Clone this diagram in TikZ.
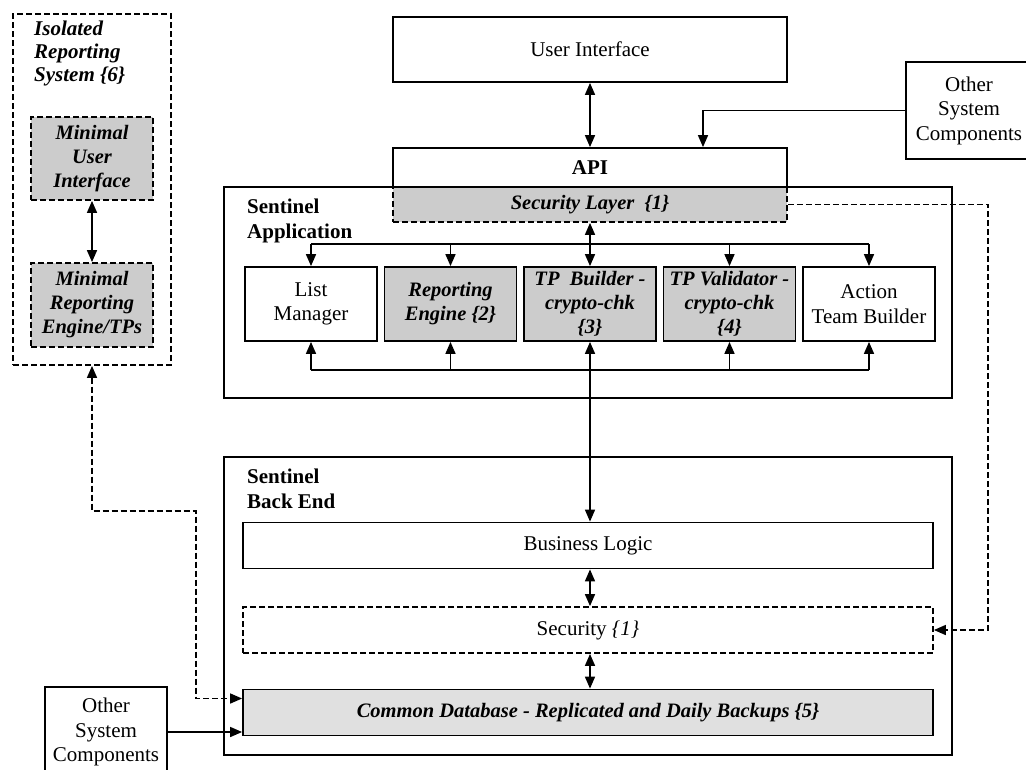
\documentclass[tikz,border=0pt]{standalone}
\usepackage{fontspec}
\setmainfont{Liberation Serif}
\usetikzlibrary{arrows.meta}

\tikzset{
  blk/.style={draw, line width=1.8pt, align=center, inner sep=0pt,
    font=\fontsize{21}{24.5}\selectfont},
  shadeblk/.style={blk, fill=black!20, font=\fontsize{20.5}{24}\selectfont\bfseries\itshape},
  dashed blk/.style={dash pattern=on 6pt off 3pt},
  comp/.style={minimum width=132pt, minimum height=74pt},
  wide/.style={minimum width=690pt, minimum height=46pt},
  tip/.tip={Triangle[length=12pt,width=10pt]},
  arr/.style={line width=1.6pt, -tip},
  darr/.style={line width=1.6pt, tip-tip},
  title/.style={anchor=north west, align=left, inner sep=0pt,
    font=\fontsize{21}{25}\selectfont\bfseries}
}

\begin{document}
\begin{tikzpicture}[x=1pt,y=-1pt]
  \useasboundingbox (0,0) rectangle (1026,769);

  % isolated reporting system
  \node[blk, dashed blk, minimum width=158pt, minimum height=351pt] (iso) at (92,189.5) {};
  \node[title, font=\fontsize{21}{23}\selectfont\bfseries\itshape] (isotitle) at (34,21)
    {Isolated\\Reporting\\System \{6\}};
  \node[shadeblk, dashed blk, minimum width=122pt, minimum height=83pt] (mui) at (92,158.5)
    {Minimal\\User\\Interface};
  \node[shadeblk, dashed blk, minimum width=122pt, minimum height=84pt] (mre) at (92,305)
    {Minimal\\Reporting\\Engine/TPs};
  \draw[darr] (mui) -- (mre);

  % top of the stack
  \node[blk, minimum width=394pt, minimum height=65pt] (ui) at (590,49.5) {User Interface};
  \node[shadeblk, dashed blk, minimum width=394pt, minimum height=35pt] (seclayer) at (590,204.5)
    {Security Layer~~\{1\}};
  \node[blk, minimum width=394pt, minimum height=39pt, font=\fontsize{21}{24}\selectfont\bfseries]
    (api) at (590,167.5) {API};
  \node[blk, minimum width=126pt, minimum height=97pt] (other1) at (969,110.5)
    {Other\\System\\Components};

  % sentinel application
  \node[blk, minimum width=728pt, minimum height=211pt] (app) at (588,292.5) {};
  \node[title] (apptitle) at (247,199) {Sentinel\\Application};
  \node[blk, comp] (lm) at (311,304) {List\\Manager};
  \node[shadeblk, comp] (rep) at (450.5,304) {Reporting\\Engine \{2\}};
  \node[shadeblk, comp] (tpb) at (590,304) {TP~~Builder -\\crypto-chk\\\{3\}};
  \node[shadeblk, comp] (tpv) at (729.5,304) {TP Validator -\\crypto-chk\\\{4\}};
  \node[blk, comp] (atb) at (869,304) {Action\\Team Builder};
  \coordinate (bustop) at (590,244);
  \coordinate (busbot) at (590,370);

  % sentinel back end
  \node[blk, minimum width=728pt, minimum height=298pt] (be) at (588,606) {};
  \node[title] (betitle) at (247,469) {Sentinel\\Back End};
  \node[blk, wide] (biz) at (588,545.5) {Business Logic};
  \node[blk, wide, dashed blk] (sec) at (588,630) {Security \textit{\{1\}}};
  \node[shadeblk, wide, fill=black!12] (db) at (588,712.5)
    {Common Database - Replicated and Daily Backups \{5\}};
  \node[blk, minimum width=122pt, minimum height=90pt] (other2) at (106,732)
    {Other\\System\\Components};
  \coordinate (rail) at (988,400);
  \coordinate (jog) at (196,511);

  % connectors
  \draw[darr] (ui) -- (api);
  \draw[arr] (other1.west) -| ([xshift=113pt]api.north);
  \draw[darr] (seclayer) -- (tpb);
  \draw[line width=1.6pt] (lm.north |- bustop) -- (atb.north |- bustop);
  \draw[line width=1.6pt] (lm.south |- busbot) -- (atb.south |- busbot);
  \foreach \n in {lm,rep,tpv,atb} {
    \draw[arr] (\n.north |- bustop) -- (\n.north);
    \draw[arr] (\n.south |- busbot) -- (\n.south);
  }
  \draw[darr] (tpb.south) -- (tpb.south |- biz.north);
  \draw[darr] (tpb.south |- biz.south) -- (tpb.south |- sec.north);
  \draw[darr] (tpb.south |- sec.south) -- (tpb.south |- db.north);
  \draw[arr, dashed blk] (seclayer.east) -| (rail) |- (sec.east);
  \draw[darr, dashed blk] (iso.south) |- (jog) |- ([yshift=14pt]db.west);
  \draw[arr] (other2.east) -- (other2.east -| db.west);
\end{tikzpicture}
\end{document}
